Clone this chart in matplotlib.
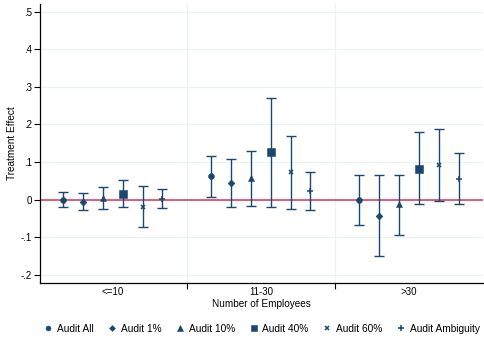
import numpy as np
import matplotlib.pyplot as plt

# employee size groups and audit treatments
groups = ["<=10", "11-30", ">30"]
treatments = ["Audit All", "Audit 1%", "Audit 10%", "Audit 40%", "Audit 60%", "Audit Ambiguity"]
markers = ["o", "D", "^", "s", "x", "+"]
msizes = [4.2, 3.5, 4.5, 5.2, 3.3, 4.3]

# point estimates, rows = treatments, columns = groups
est = np.array([
    [0.000, 0.062, 0.000],
    [-0.006, 0.045, -0.043],
    [0.004, 0.058, -0.012],
    [0.014, 0.126, 0.082],
    [-0.019, 0.073, 0.091],
    [0.002, 0.024, 0.055],
])
ci_lo = np.array([
    [-0.019, 0.008, -0.068],
    [-0.028, -0.019, -0.150],
    [-0.024, -0.017, -0.094],
    [-0.021, -0.019, -0.012],
    [-0.074, -0.024, -0.004],
    [-0.023, -0.027, -0.013],
])
ci_hi = np.array([
    [0.019, 0.117, 0.066],
    [0.018, 0.108, 0.065],
    [0.033, 0.130, 0.066],
    [0.051, 0.269, 0.180],
    [0.035, 0.168, 0.187],
    [0.029, 0.074, 0.124],
])

navy = "#1a476f"
plt.rcParams["font.family"] = ["Liberation Sans", "DejaVu Sans"]

fig = plt.figure(figsize=(4.84, 3.43), dpi=100)
ax = fig.add_axes([0.083, 0.175, 0.915, 0.813])

xc = np.arange(1, len(groups) + 1)
offsets = (np.arange(len(treatments)) - 2.5) * 0.134

for i, name in enumerate(treatments):
    x = xc + offsets[i]
    ax.errorbar(x, est[i], yerr=[est[i] - ci_lo[i], ci_hi[i] - est[i]],
                fmt="none", ecolor=navy, elinewidth=1.0, capsize=3.5,
                capthick=1.0, zorder=3)
    ax.plot(x, est[i], linestyle="none", marker=markers[i], markersize=msizes[i],
            color=navy, markeredgewidth=1.1 if markers[i] in "x+" else 0.4,
            label=name, zorder=4)

ax.axhline(0, color="#d0365c", linewidth=1.1, zorder=2)

ax.set_xlim(0.51, 3.5)
ax.set_ylim(-0.222, 0.52)

yt = np.arange(-0.2, 0.51, 0.1)
ax.set_yticks(yt)
ax.set_yticklabels(["-.2", "-.1", "0", ".1", ".2", ".3", ".4", ".5"], fontsize=7)
ax.yaxis.grid(True, color="#eaf2f3", linewidth=0.9, zorder=0)

# group boundaries as major ticks, group names as minor tick labels
ax.set_xticks([1.5, 2.5])
ax.set_xticklabels([])
ax.set_xticks(xc, minor=True)
ax.set_xticklabels(groups, minor=True, fontsize=7)
ax.tick_params(axis="x", which="minor", length=0, pad=3)
ax.tick_params(axis="x", which="major", length=4, width=0.8)
ax.tick_params(axis="y", length=4, width=0.8, pad=2)
ax.xaxis.grid(True, which="major", color="#eaf2f3", linewidth=0.9, zorder=0)

for s in ["top", "right"]:
    ax.spines[s].set_visible(False)
for s in ["left", "bottom"]:
    ax.spines[s].set_linewidth(0.9)

ax.set_xlabel("Number of Employees", fontsize=7.2, labelpad=1)
ax.set_ylabel("Treatment Effect", fontsize=7.2, labelpad=2.5)

fig.legend(loc="lower center", bbox_to_anchor=(0.54, 0.0), ncol=6, frameon=False,
           fontsize=7.3, handletextpad=0.35, columnspacing=1.35, handlelength=1.0,
           markerscale=0.85)

fig.savefig("out.png", dpi=100)
